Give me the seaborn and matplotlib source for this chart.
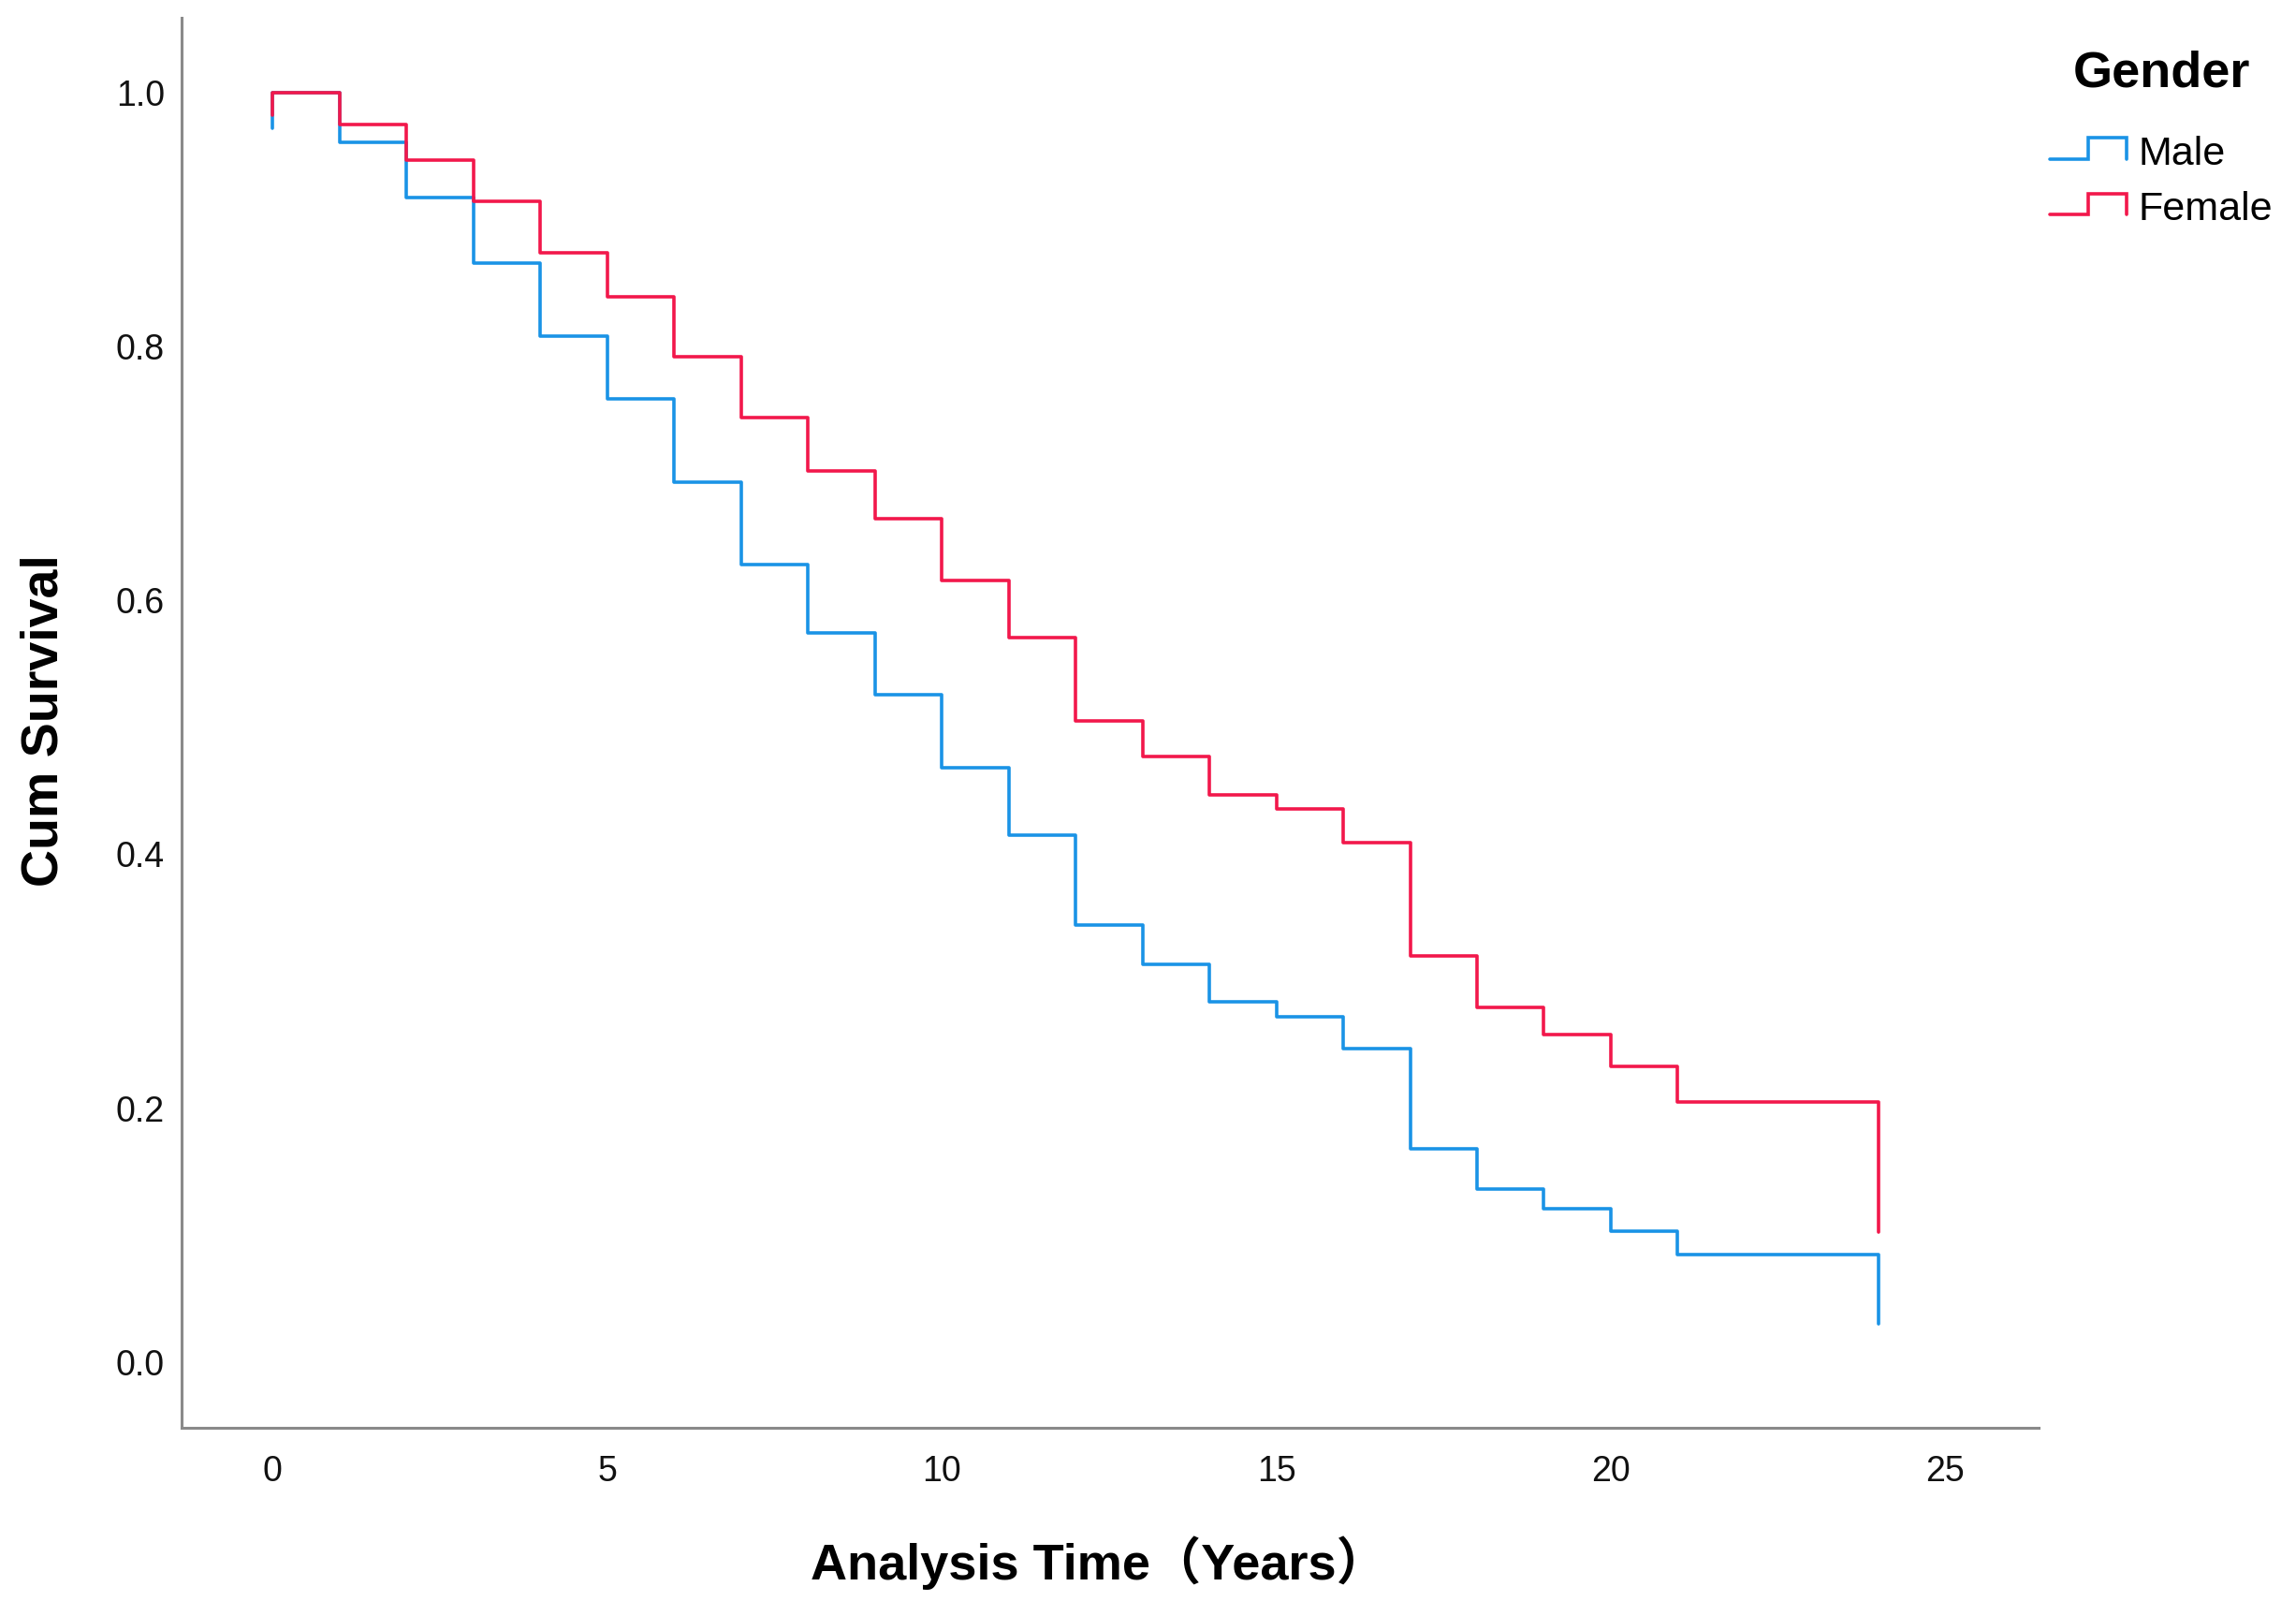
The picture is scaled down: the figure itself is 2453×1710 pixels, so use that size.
import matplotlib
matplotlib.use("Agg")
import matplotlib.pyplot as plt
import seaborn as sns
import pandas as pd
import numpy as np
from matplotlib.legend_handler import HandlerBase
from matplotlib.lines import Line2D

# ---- data ----
years = list(range(0, 25))            # step times 0..24
male_start = 0.972
male_surv = [1.000, 0.961, 0.917, 0.866, 0.808, 0.759, 0.693, 0.628, 0.574, 0.526,
             0.468, 0.415, 0.344, 0.313, 0.284, 0.272, 0.247, 0.168, 0.136, 0.121,
             0.103, 0.085, 0.085, 0.085, 0.030]
female_start = 0.982
female_surv = [1.000, 0.975, 0.947, 0.914, 0.874, 0.839, 0.792, 0.744, 0.702, 0.664,
               0.616, 0.571, 0.505, 0.477, 0.447, 0.436, 0.409, 0.320, 0.279, 0.258,
               0.233, 0.205, 0.205, 0.205, 0.102]
groups = ["Male", "Female"]
colors = {"Male": "#1a93e6", "Female": "#f2184b"}
x_ticks = [0, 5, 10, 15, 20, 25]
y_ticks = [0.0, 0.2, 0.4, 0.6, 0.8, 1.0]

rows = []
for g, start, surv in [("Male", male_start, male_surv), ("Female", female_start, female_surv)]:
    rows.append({"time": years[0], "surv": start, "gender": g})
    for t, s in zip(years, surv):
        rows.append({"time": t, "surv": s, "gender": g})
df = pd.DataFrame(rows)

sns.set_theme(style="white")
plt.rcParams["font.family"] = ["Liberation Sans", "Noto Sans CJK SC", "DejaVu Sans"]

fig = plt.figure(figsize=(24.53, 17.10), dpi=100)
ax = fig.add_axes([0.0791, 0.108, 0.8087, 0.881])

LW = 2.6
sns.lineplot(data=df, x="time", y="surv", hue="gender", hue_order=groups,
             palette=colors, estimator=None, sort=False, drawstyle="steps-post",
             linewidth=LW, legend=False, ax=ax)

ax.set_xlim(-1.36, 26.39)
ax.set_ylim(-0.052, 1.059)
ax.set_xticks(x_ticks)
ax.set_xticklabels([str(v) for v in x_ticks])
ax.set_yticks(y_ticks)
ax.set_yticklabels([f"{v:.1f}" for v in y_ticks])
ax.tick_params(axis="both", length=0, labelsize=27, colors="#111111")
ax.tick_params(axis="x", pad=21)
ax.tick_params(axis="y", pad=13)

for side in ["top", "right"]:
    ax.spines[side].set_visible(False)
for side in ["left", "bottom"]:
    ax.spines[side].set_color("#8a8a8a")
    ax.spines[side].set_linewidth(2.2)

ax.set_xlabel("Analysis Time（Years）", fontsize=39, fontweight="bold", color="black")
ax.set_ylabel("Cum Survival", fontsize=40, fontweight="bold", color="black")
ax.xaxis.label.set_va("center")
ax.yaxis.label.set_va("center")
ax.xaxis.set_label_coords(0.4937, -0.0955)
ax.yaxis.set_label_coords(-0.074, 0.5016)


class StepHandler(HandlerBase):
    def create_artists(self, legend, orig_handle, xdescent, ydescent, width, height,
                       fontsize, trans):
        x0 = -xdescent
        low = -ydescent + height * 0.2
        high = -ydescent + height * 0.95
        xs = [x0, x0 + width * 0.5, x0 + width * 0.5, x0 + width, x0 + width]
        ys = [low, low, high, high, low]
        ln = Line2D(xs, ys, color=orig_handle.get_color(), linewidth=LW,
                    solid_joinstyle="miter", transform=trans)
        return [ln]


handles = [Line2D([0], [0], color=colors[g]) for g in groups]
leg = fig.legend(handles, groups, handler_map={Line2D: StepHandler()},
                 title="Gender", loc="upper right", bbox_to_anchor=(0.997, 0.979),
                 frameon=False, fontsize=31, handlelength=1.9, handletextpad=0.3,
                 labelspacing=0.45, borderaxespad=0.0)
leg.get_title().set_fontsize(39)
leg.get_title().set_fontweight("bold")
leg.get_title().set_color("black")
for t in leg.get_texts():
    t.set_color("black")
leg._legend_box.sep = 30

fig.savefig("out.png", dpi=100)
